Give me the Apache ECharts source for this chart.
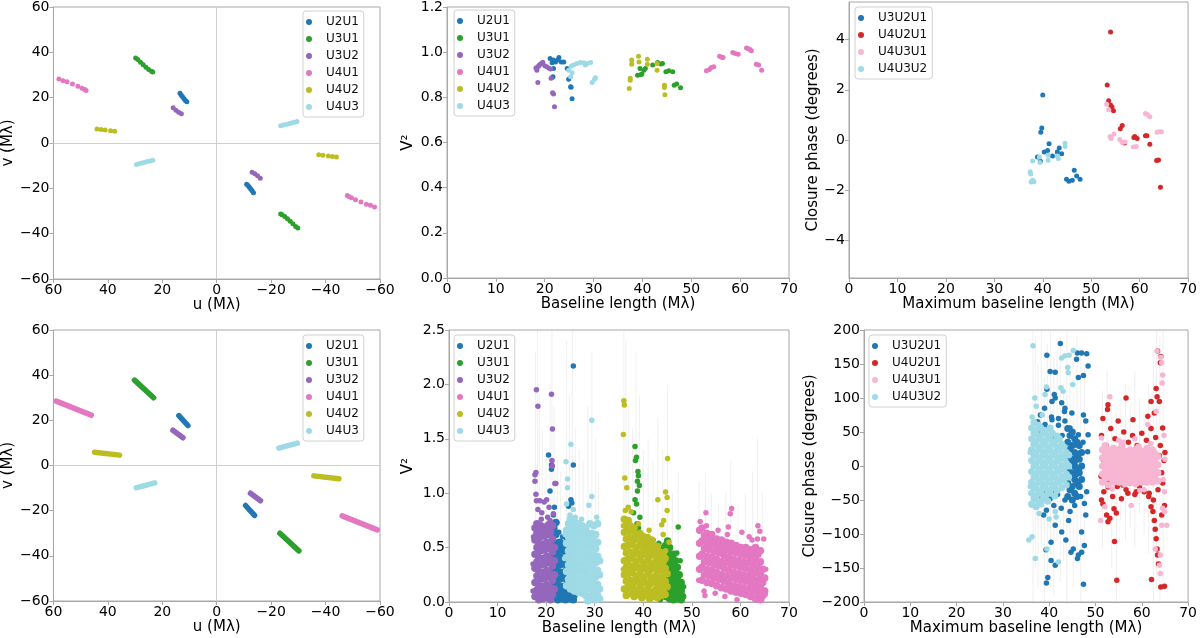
<!DOCTYPE html>
<html>
<head>
<meta charset="utf-8">
<script src="https://cdn.jsdelivr.net/npm/echarts@6/dist/echarts.min.js"></script>
<style>
html, body { margin: 0; padding: 0; background: #fff; }
#main { width: 1200px; height: 638px; }
</style>
</head>
<body>
<div id="main"></div>
<script>
// ---- names / colours
const baselines = ['U2U1', 'U3U1', 'U3U2', 'U4U1', 'U4U2', 'U4U3'];
const triangles = ['U3U2U1', 'U4U2U1', 'U4U3U1', 'U4U3U2'];
const baseColors = ['#1f77b4', '#2ca02c', '#9467bd', '#e377c2', '#bcbd22', '#9edae5'];
const triColors = ['#1f77b4', '#d62728', '#f7b6d2', '#9edae5'];

// ---- top row: uv points (only one half, the other is the conjugate -u,-v)
const uvTopU2U1 = [[13.5,22],[13,21.1],[12.5,20.3],[12,19.5],[11.5,18.8],[11,18.2]];
const uvTopU3U1 = [[29.8,37.5],[29,36.8],[28,35.6],[27,34.5],[26,33.4],[25,32.4],[24,31.6],[23.5,31.3]];
const uvTopU3U2 = [[16,15.5],[15,14.5],[14,13.6],[13,12.9]];
const uvTopU4U1 = [[58,28.2],[56.5,27.5],[55,27],[53,26],[51,25],[49.5,24.2],[48.5,23.6],[48,23.2]];
const uvTopU4U2 = [[44,6.2],[42.5,6],[41,5.7],[39,5.4],[37.5,5.2]];
const uvTopU4U3 = [[29.5,-9.5],[28.5,-9.1],[27.5,-8.8],[26.5,-8.5],[25.5,-8.2],[24.5,-7.9],[23.5,-7.6]];
const uvTop = [uvTopU2U1, uvTopU3U1, uvTopU3U2, uvTopU4U1, uvTopU4U2, uvTopU4U3];

// ---- bottom row: uv tracks (start, end)
const uvBotU2U1 = [[13.9,22.1],[10.6,17.7]];
const uvBotU3U1 = [[30.2,37.8],[23.2,30.0]];
const uvBotU3U2 = [[16.1,15.6],[12.4,12.3]];
const uvBotU4U1 = [[59.0,28.5],[46.1,22.3]];
const uvBotU4U2 = [[44.9,5.9],[35.7,4.6]];
const uvBotU4U3 = [[29.6,-9.9],[22.8,-7.7]];
const uvBot = [uvBotU2U1, uvBotU3U1, uvBotU3U2, uvBotU4U1, uvBotU4U2, uvBotU4U3];

// ---- top row: V2
const v2TopU2U1 = [[21.1,0.972],[21.5,0.953],[21.8,0.965],[22.2,0.957],[22.7,0.965],[22.9,0.976],[23.4,0.957],[23.9,0.957],[21.8,0.928],[21.7,0.891],[21.5,0.888],[24.6,0.928],[24.9,0.88],[25.3,0.847],[25.4,0.845],[25.6,0.794]];
const v2TopU3U1 = [[39.0,0.898],[39.5,0.928],[39.9,0.903],[39.6,0.9],[40.6,0.928],[40.3,0.92],[42.1,0.943],[43.1,0.954],[44.1,0.95],[43.8,0.948],[44.8,0.913],[45.4,0.918],[46.2,0.913],[46.5,0.854],[47.0,0.859],[47.8,0.842]];
const v2TopU3U2 = [[18.2,0.93],[18.4,0.92],[18.6,0.935],[18.8,0.94],[19.0,0.945],[19.3,0.95],[19.6,0.955],[20.0,0.94],[20.4,0.935],[20.8,0.93],[21.2,0.925],[18.6,0.866],[21.3,0.884],[21.6,0.82],[21.8,0.815],[22.0,0.758]];
const v2TopU4U1 = [[53.1,0.918],[53.7,0.923],[54.1,0.932],[54.6,0.935],[55.8,0.982],[56.2,0.978],[56.5,0.976],[58.5,0.999],[59.0,0.994],[59.6,0.991],[61.3,1.019],[61.7,1.015],[62.0,1.012],[62.3,1.006],[63.3,0.947],[63.8,0.943],[64.4,0.92]];
const v2TopU4U2 = [[37.3,0.839],[37.5,0.884],[37.5,0.876],[37.8,0.965],[37.8,0.946],[39.2,0.982],[39.3,0.957],[41.0,0.969],[41.0,0.946],[43.0,0.95],[43.0,0.92],[44.5,0.854],[44.5,0.844],[44.6,0.811]];
const v2TopU4U3 = [[24.9,0.92],[25.4,0.938],[25.9,0.943],[26.6,0.95],[27.3,0.954],[28.0,0.953],[28.3,0.943],[28.7,0.95],[29.4,0.954],[25.6,0.909],[25.3,0.891],[29.7,0.866],[30.2,0.88],[30.4,0.887]];
const v2Top = [v2TopU2U1, v2TopU3U1, v2TopU3U2, v2TopU4U1, v2TopU4U2, v2TopU4U3];

// ---- top row: closure phase
const cpTopU3U2U1 = [[39.6,0.31],[39.8,0.48],[40.0,1.79],[38.9,-0.68],[40.3,-0.48],[41.0,-0.42],[41.3,-0.15],[42.0,-0.64],[43.0,-0.48],[43.4,-0.32],[43.9,-0.55],[44.9,-1.56],[45.4,-1.64],[46.1,-1.6],[46.5,-1.21],[47.0,-1.43],[47.7,-1.56],[39.5,-0.85]];
const cpTopU4U2U1 = [[53.3,2.19],[54.0,4.3],[53.6,1.56],[54.0,1.39],[54.3,1.32],[54.6,1.17],[56.0,0.45],[56.4,0.58],[56.8,-0.1],[56.9,-0.12],[58.8,0.1],[59.0,0.14],[59.5,0.06],[61.2,0.17],[61.5,0.17],[62.1,-0.17],[63.5,-0.82],[63.9,-0.8],[64.3,-1.88]];
const cpTopU4U3U1 = [[53.2,1.42],[53.6,1.21],[53.9,0.14],[54.1,0.06],[54.7,0.24],[55.9,0.02],[56.4,-0.1],[57.0,-0.08],[58.7,-0.28],[59.3,-0.26],[61.2,1.06],[61.6,1.02],[62.1,0.93],[63.6,0.31],[64.0,0.33],[64.5,0.33]];
const cpTopU4U3U2 = [[37.4,-1.27],[37.5,-1.36],[37.6,-1.67],[37.9,-1.6],[37.9,-0.84],[39.3,-0.68],[39.4,-0.9],[41.1,-0.61],[41.1,-0.81],[43.0,-0.64],[43.2,-0.74],[44.6,-0.13],[44.6,-0.26],[38.2,-1.66]];
const cpTop = [cpTopU3U2U1, cpTopU4U2U1, cpTopU4U3U1, cpTopU4U3U2];

// ---- bottom row: V2, dense parts as [x, [y...]] columns plus loose points
const v2BotU2U1Cols = [[21.6,[0.04,0.17,0.30,0.43,0.55,0.68]],[22.0,[0.10,0.23,0.36,0.49,0.62,0.73]],[22.4,[0.02,0.15,0.28,0.41,0.52]],[22.8,[0.08,0.21,0.34,0.46,0.55]],[23.2,[0.03,0.14,0.27,0.40,0.50]],[23.6,[0.09,0.22,0.35,0.47,0.53]],[24.0,[0.02,0.15,0.28,0.41,0.50]],[24.4,[0.07,0.19,0.31,0.44]],[24.8,[0.03,0.12,0.22]],[25.2,[0.06,0.16,0.25]],[25.6,[0.02,0.10]]];
const v2BotU2U1Pts = [[25.6,2.17],[20.5,1.35],[21.1,1.26],[21.1,1.22],[20.8,1.02],[25.6,1.26],[25.1,0.94],[25.3,0.91],[21.7,0.87],[21.5,0.80],[22.2,0.73],[25.0,0.77],[24.6,0.88],[25.2,0.62],[24.9,0.68],[22.6,0.64],[23.4,0.60],[24.2,0.57],[25.9,0.05]];
const v2BotU3U1Cols = [[44.6,[0.05,0.17,0.29,0.41,0.52]],[45.0,[0.10,0.22,0.34,0.46,0.56]],[45.4,[0.03,0.15,0.27,0.39,0.50]],[45.8,[0.08,0.20,0.32,0.43]],[46.2,[0.02,0.13,0.25,0.36,0.44]],[46.6,[0.07,0.18,0.29,0.38]],[47.0,[0.03,0.12,0.22,0.32]],[47.4,[0.06,0.15,0.25]],[47.8,[0.02,0.10,0.18]],[48.1,[0.05]]];
const v2BotU3U1Pts = [[39.6,0.62],[40.2,0.58],[40.8,0.60],[41.4,0.55],[42.0,0.57],[42.6,0.52],[43.2,0.54],[43.8,0.50],[44.2,0.47],[41.0,0.50],[42.3,0.47],[39.9,0.52],[38.3,1.43],[38.6,1.33],[38.4,1.30],[38.9,1.20],[39.0,1.16],[38.8,1.11],[39.2,1.07],[38.8,1.02],[38.3,0.94],[38.6,0.90],[38.0,0.82],[39.3,0.78],[38.7,0.72],[39.0,0.68],[38.5,0.66],[47.2,0.69],[41.5,0.03],[42.5,0.06],[43.5,0.02],[40.5,0.08],[46.9,0.45],[48.3,0.14],[47.6,0.38]];
const v2BotU3U2Cols = [[17.7,[0.05,0.18,0.31,0.44,0.57,0.68]],[18.1,[0.11,0.24,0.37,0.50,0.63,0.72]],[18.5,[0.02,0.15,0.28,0.41,0.54,0.66]],[18.9,[0.08,0.21,0.34,0.47,0.60,0.70]],[19.3,[0.03,0.14,0.27,0.40,0.53,0.64]],[19.7,[0.09,0.22,0.35,0.48,0.61,0.69]],[20.1,[0.04,0.16,0.29,0.42,0.55,0.66]],[20.5,[0.10,0.23,0.36,0.49,0.62,0.71]],[20.9,[0.02,0.13,0.26,0.39,0.52,0.64]],[21.3,[0.07,0.20,0.33,0.46,0.58,0.70]],[21.7,[0.12,0.25,0.38,0.50]]];
const v2BotU3U2Pts = [[18.0,1.95],[18.3,1.80],[21.1,1.91],[21.3,1.59],[21.2,1.30],[21.3,1.25],[17.9,1.19],[17.7,1.17],[17.7,1.11],[18.0,0.93],[18.7,0.93],[19.6,0.92],[20.6,0.87],[20.1,0.94],[21.8,1.09],[22.0,1.09],[17.9,0.99],[18.3,0.85],[19.1,0.82],[20.3,0.78],[21.5,0.81],[17.3,0.35],[17.3,0.10],[17.4,0.60],[19.0,0.76],[20.8,0.75]];
const v2BotU4U1Cols = [[51.6,[0.30,0.42,0.54,0.66]],[52.1,[0.20,0.32,0.44,0.56,0.68]],[52.6,[0.25,0.37,0.49,0.61]],[53.1,[0.18,0.30,0.42,0.54,0.63]],[53.6,[0.24,0.36,0.48,0.59]],[54.1,[0.17,0.29,0.41,0.53,0.62]],[54.6,[0.22,0.34,0.46,0.57]],[55.1,[0.15,0.27,0.39,0.51,0.58]],[55.6,[0.21,0.33,0.45,0.55]],[56.1,[0.13,0.25,0.37,0.49,0.57]],[56.6,[0.19,0.31,0.43,0.53]],[57.1,[0.12,0.24,0.36,0.48,0.55]],[57.6,[0.17,0.29,0.41,0.51]],[58.1,[0.10,0.22,0.34,0.46,0.54]],[58.6,[0.15,0.27,0.39,0.49]],[59.1,[0.09,0.21,0.33,0.45,0.52]],[59.6,[0.14,0.26,0.38,0.48]],[60.1,[0.08,0.20,0.32,0.44,0.50]],[60.6,[0.13,0.25,0.37,0.47]],[61.1,[0.07,0.19,0.31,0.43,0.50]],[61.6,[0.12,0.24,0.36,0.46]],[62.1,[0.05,0.17,0.29,0.41,0.48]],[62.6,[0.10,0.22,0.34,0.45]],[63.1,[0.03,0.15,0.27,0.39,0.50]],[63.6,[0.08,0.20,0.32,0.44]],[64.1,[0.02,0.13,0.25,0.37,0.47]],[64.6,[0.06,0.18,0.30]],[65.0,[0.10,0.22]]];
const v2BotU4U1Pts = [[52.9,0.82],[51.7,0.74],[57.9,0.81],[58.2,0.86],[57.5,0.69],[60.3,0.64],[63.6,0.70],[64.0,0.65],[52.5,0.10],[52.7,0.06],[64.4,0.02],[65.1,0.07],[56.8,0.05],[53.0,0.70],[55.4,0.66],[61.8,0.60],[64.8,0.58],[59.3,0.02],[51.4,0.20],[63.5,0.58],[54.8,0.08],[57.3,0.62],[62.4,0.57],[65.2,0.30]];
const v2BotU4U2Cols = [[36.1,[0.12,0.25,0.38,0.51,0.64,0.76]],[36.5,[0.06,0.19,0.32,0.45,0.58,0.70]],[36.9,[0.13,0.26,0.39,0.52,0.65,0.75]],[37.3,[0.08,0.20,0.33,0.46,0.59,0.70]],[37.7,[0.14,0.27,0.40,0.53,0.66]],[38.1,[0.05,0.18,0.31,0.44,0.57,0.68]],[38.5,[0.11,0.24,0.37,0.50,0.62]],[38.9,[0.07,0.19,0.32,0.45,0.58]],[39.3,[0.13,0.26,0.39,0.52,0.63]],[39.7,[0.04,0.17,0.30,0.43,0.56]],[40.1,[0.10,0.23,0.36,0.49,0.60]],[40.5,[0.06,0.18,0.31,0.44,0.55]],[40.9,[0.12,0.25,0.38,0.50,0.59]],[41.3,[0.03,0.16,0.29,0.42,0.53]],[41.7,[0.09,0.22,0.35,0.47,0.57]],[42.1,[0.05,0.18,0.31,0.44,0.52]],[42.5,[0.11,0.24,0.37,0.49]],[42.9,[0.04,0.16,0.29,0.41,0.51]],[43.3,[0.10,0.22,0.35,0.46]],[43.7,[0.06,0.18,0.30,0.42]],[44.1,[0.12,0.25,0.37,0.45]],[44.5,[0.07,0.19,0.31,0.40]],[44.9,[0.14,0.26]]];
const v2BotU4U2Pts = [[36.0,1.85],[36.1,1.81],[35.9,1.54],[36.2,1.14],[36.6,1.05],[36.3,0.84],[36.9,0.87],[45.0,1.32],[44.6,1.01],[43.0,0.94],[44.9,0.96],[44.9,0.84],[43.8,0.71],[44.1,0.62],[44.6,0.47],[37.5,0.83],[35.9,0.70],[45.3,0.55],[44.2,0.75],[35.9,0.30],[39.0,0.72],[41.2,0.66]];
const v2BotU4U3Cols = [[24.2,[0.15,0.28,0.41,0.54,0.66]],[24.6,[0.21,0.34,0.47,0.60,0.72]],[25.0,[0.12,0.25,0.38,0.51,0.64,0.76]],[25.4,[0.18,0.31,0.44,0.57,0.70]],[25.8,[0.10,0.23,0.36,0.49,0.62,0.74]],[26.2,[0.16,0.29,0.42,0.55,0.68]],[26.6,[0.09,0.22,0.35,0.48,0.61,0.72]],[27.0,[0.15,0.28,0.41,0.54,0.66]],[27.4,[0.08,0.21,0.34,0.47,0.60,0.70]],[27.8,[0.14,0.27,0.40,0.53,0.65]],[28.2,[0.06,0.19,0.32,0.45,0.58,0.68]],[28.6,[0.01,0.12,0.25,0.38,0.51,0.63]],[29.0,[0.05,0.18,0.31,0.44,0.57,0.72]],[29.4,[0.11,0.24,0.37,0.50,0.63]],[29.8,[0.04,0.17,0.30,0.43,0.56,0.70]],[30.2,[0.02,0.10,0.23,0.36,0.49,0.62]],[30.6,[0.06,0.16,0.29,0.42,0.55,0.72]],[31.0,[0.03,0.12,0.25,0.38]]];
const v2BotU4U3Pts = [[29.4,1.67],[25.1,1.45],[24.1,1.29],[24.4,1.13],[24.4,1.05],[24.2,0.90],[29.4,0.97],[28.8,0.89],[30.4,0.78],[24.9,0.80],[25.6,0.85],[26.0,0.78],[27.3,0.76],[23.9,0.62],[23.8,0.40]];
const v2BotCols = [v2BotU2U1Cols, v2BotU3U1Cols, v2BotU3U2Cols, v2BotU4U1Cols, v2BotU4U2Cols, v2BotU4U3Cols];
const v2BotPts = [v2BotU2U1Pts, v2BotU3U1Pts, v2BotU3U2Pts, v2BotU4U1Pts, v2BotU4U2Pts, v2BotU4U3Pts];
// faint error bars seen behind the bottom V2 cloud: [x, low, high]
const v2BotErr = [[17.8,0.3,2.3],[18.2,0.8,2.5],[18.6,0.2,1.9],[19.2,0.0,1.6],[20.0,0.1,1.4],[20.8,0.3,2.0],[21.2,0.6,2.5],[21.6,0.2,1.8],[22.3,0.0,1.3],[23.0,0.0,1.2],[24.2,0.2,2.4],[24.8,0.4,1.9],[25.4,0.6,2.5],[26.0,0.0,1.6],[26.8,0.1,1.4],[27.6,0.0,1.3],[28.6,0.1,1.8],[29.4,0.7,2.3],[30.2,0.0,1.5],[30.8,0.1,1.2],
  [36.0,0.8,2.5],[36.4,0.3,2.4],[37.0,0.0,1.8],[37.8,0.2,1.6],[38.5,0.5,2.3],[39.2,0.2,1.9],[40.0,0.0,1.4],[41.0,0.1,1.5],[42.0,0.0,1.3],[43.0,0.3,1.7],[44.0,0.2,1.4],[45.0,0.5,2.0],[46.0,0.0,1.0],[47.2,0.0,1.2],
  [51.5,0.2,1.1],[52.8,0.3,1.2],[54.0,0.1,1.0],[55.5,0.0,0.9],[57.0,0.1,1.0],[58.0,0.4,1.3],[59.5,0.0,0.9],[61.0,0.1,1.0],[62.5,0.0,1.2],[63.5,0.1,1.5],[64.5,0.0,1.0]];

// ---- bottom row: closure phase
const cpBotU3U2U1Cols = [[44.0,[-45,-25,-5,15,35,55]],[44.5,[-35,-15,5,25,45]],[45.0,[-50,-30,-10,10,30,50]],[45.5,[-40,-20,0,20,40]],[46.0,[-45,-25,-5,15,35]],[46.5,[-30,-10,10,30]],[47.0,[-20,0,20]]];
const cpBotU3U2U1Pts = [[37.5,65],[38.2,48],[39.0,85],[39.8,55],[40.5,72],[41.2,40],[42.0,60],[42.8,45],[43.3,80],[37.8,-55],[38.6,-40],[39.4,-65],[40.2,-48],[41.0,-58],[41.8,-42],[42.6,-62],[43.4,-50],
  [46.1,166],[47.0,166],[48.1,165],[45.9,157],[48.4,147],[47.4,133],[46.3,130],[41.1,105],[42.4,180],[39.5,163],[40.2,139],[41.3,138],[39.5,113],[41.3,100],[40.6,95],[42.7,93],[43.4,85],[44.9,78],[47.4,75],[47.9,66],[48.4,46],[48.3,21],[48.1,-38],[47.6,-55],[47.9,-72],[47.0,-97],[47.6,-117],[47.0,-127],[46.3,-131],[46.1,-136],[47.4,-174],[39.4,-172],[39.7,-164],[39.3,-123],[40.4,-139],[41.3,-146],[42.7,-97],[43.6,-109],[44.7,-127],[45.2,-122],[40.4,-112],[41.3,-87],[44.5,-67],[38.8,-72],[38.1,-48],[41.1,-40],[45.9,-13],[46.4,-28],[46.6,-3],[45.6,6],[46.6,19],[45.6,31],[46.3,46],[44.5,56],[43.4,66],[42.0,70],[40.6,68],[39.1,61],[38.1,75],[45.5,-58],[46.8,-45],[44.2,-80],[47.3,35]];
const cpBotU4U2U1Pts = [[51.3,45],[51.8,-38],[52.3,30],[52.8,-20],[53.3,55],[53.7,-45],[54.2,40],[54.7,-30],[55.2,25],[55.6,-48],[56.1,50],[56.6,-35],[57.1,35],[57.5,-25],[58.0,45],[58.5,-42],[59.0,30],[59.5,-30],[60.0,48],[60.5,-38],[61.0,38],[61.5,-45],[62.0,55],[62.5,-50],[63.0,42],[63.5,-35],[64.0,30],[64.5,-25],[65.0,20],[51.6,10],[52.4,-5],[53.0,0],[56.0,5],[59.8,-8],[62.8,2],[64.3,-10],[64.8,8],[63.8,15],[51.2,-15],[54.0,18],
  [63.4,169],[64.1,161],[64.0,152],[63.1,114],[63.3,102],[63.8,95],[62.0,95],[56.6,100],[52.7,90],[52.6,83],[51.6,70],[54.9,66],[58.1,68],[61.3,73],[62.7,78],[64.5,56],[51.3,-50],[51.6,-56],[52.4,-72],[53.1,-77],[52.7,-82],[54.0,-63],[54.5,-69],[54.1,-111],[54.6,-168],[62.0,-60],[62.4,-67],[62.7,-80],[62.9,-93],[63.1,-107],[63.3,-122],[63.4,-131],[63.6,-144],[62.1,-167],[64.1,-178],[64.9,-177],[64.3,-72],[64.9,-58],[61.6,-40],[57.0,-40],[58.8,-38],[52.7,-31],[55.9,-28]];
const cpBotU4U3U1Cols = [[51.5,[-24,-12,0,12,24]],[52.1,[-18,-6,6,18,30]],[52.7,[-28,-12,0,12,24]],[53.3,[-18,-6,6,18]],[53.9,[-24,-12,0,12,26]],[54.5,[-20,-6,6,18]],[55.1,[-24,-12,0,12,24]],[55.7,[-18,-6,6,18,30]],[56.3,[-26,-12,0,12,22]],[56.9,[-18,-6,6,18]],[57.5,[-24,-12,0,12,24]],[58.1,[-20,-6,6,18]],[58.7,[-26,-12,0,12,24]],[59.3,[-18,-6,6,18,28]],[59.9,[-24,-12,0,12,22]],[60.5,[-18,-6,6,18]],[61.1,[-24,-12,0,12,26]],[61.7,[-20,-6,6,18]],[62.3,[-24,-12,0,12,24]],[62.9,[-18,-6,6,18]],[63.5,[-22,-10,2,14]]];
const cpBotU4U3U1Pts = [[53.1,102],[63.3,169],[64.1,160],[64.3,152],[64.4,122],[64.5,134],[63.1,80],[61.3,61],[51.3,41],[64.9,-38],[64.5,-62],[64.9,-67],[64.3,-87],[65.4,-87],[64.0,-131],[63.8,-146],[64.0,-158],[62.9,-122],[51.1,-80],[57.7,-58],[62.7,-13],[52.0,-60],[58.5,40],[55.0,38],[60.5,-35],[64.8,45],[65.0,10],[64.6,-20],[53.6,-34],[56.0,35],[59.6,-36],[61.9,33]];
const cpBotU4U3U2Cols = [[36.2,[-56,-40,-24,-8,8,24,40,56]],[36.7,[-48,-32,-16,0,16,32,48,64]],[37.2,[-60,-44,-28,-12,4,20,36,52]],[37.7,[-52,-36,-20,-4,12,28,44,60]],[38.2,[-56,-40,-24,-8,8,24,40,56]],[38.7,[-48,-32,-16,0,16,32,48]],[39.2,[-44,-28,-12,4,20,36,52]],[39.7,[-52,-36,-20,-4,12,28,44]],[40.2,[-40,-24,-8,8,24,40,56]],[40.7,[-32,-16,0,16,32,48]],[41.2,[-44,-28,-12,4,20,36]],[41.7,[-36,-20,-4,12,28,44]],[42.2,[-24,-8,8,24,40]],[42.7,[-32,-16,0,16,32]],[43.2,[-20,-4,12,28]],[43.7,[-28,-12,4,20]],[44.2,[-16,0,16]]];
const cpBotU4U3U2Pts = [[36.5,177],[42.7,159],[43.4,162],[44.3,163],[45.2,170],[44.0,145],[44.1,137],[39.4,116],[36.9,100],[36.3,72],[37.0,-136],[35.6,-109],[36.3,-104],[42.0,-141],[39.5,-122],[41.3,-67],[36.3,-58],[39.1,105],[45.1,120],[37.2,88],[38.5,75],[43.0,110],[42.5,115],[41.5,-75],[40.0,-78],[37.8,-70],[35.9,20],[35.9,-30]];
const cpBotCols = [cpBotU3U2U1Cols, [], cpBotU4U3U1Cols, cpBotU4U3U2Cols];
const cpBotPts = [cpBotU3U2U1Pts, cpBotU4U2U1Pts, cpBotU4U3U1Pts, cpBotU4U3U2Pts];
const cpBotErr = [[36.5,-200,200],[37.0,-150,190],[37.6,-180,150],[38.3,-120,200],[39.0,-200,130],[39.6,-160,180],[40.3,-130,200],[41.0,-190,160],[41.7,-110,170],[42.4,-170,190],[43.1,-140,120],[43.8,-200,200],[44.5,-120,160],[45.2,-180,110],[46.0,-150,190],[46.8,-200,170],[47.6,-130,150],
  [51.5,-120,110],[52.5,-90,140],[53.5,-150,90],[54.5,-200,80],[55.5,-80,100],[56.5,-110,120],[57.5,-90,90],[58.5,-120,140],[59.5,-70,100],[60.5,-100,80],[61.5,-130,120],[62.5,-200,170],[63.2,-180,200],[63.9,-200,190],[64.6,-170,200]];

// ---- helpers
const FONT = 'DejaVu Sans';
const EDGE = '#a8a8a8';
function fromCols(cols) {
    const out = [];
    cols.forEach(function (c) { c[1].forEach(function (y) { out.push([c[0], y]); }); });
    return out;
}
function minus(v) { return String(v).replace('-', '\u2212'); }

function axis(grid, opt) {
    return Object.assign({
        type: 'value',
        gridIndex: grid,
        nameLocation: 'middle',
        nameTextStyle: { fontFamily: FONT, fontSize: 15, color: '#000' },
        axisLine: { show: true, onZero: false, lineStyle: { color: EDGE, width: 1 } },
        axisTick: { show: true, inside: false, length: 4, lineStyle: { color: EDGE } },
        axisLabel: { fontFamily: FONT, fontSize: 14, color: '#000', margin: 4, formatter: minus, showMinLabel: true, showMaxLabel: true },
        splitLine: { show: false }
    }, opt);
}

const grids = [
    { left: 53, top: 6, width: 327, height: 273 },
    { left: 447, top: 6, width: 342, height: 272 },
    { left: 849, top: 2, width: 343, height: 276 },
    { left: 53, top: 330, width: 327, height: 271 },
    { left: 449, top: 330, width: 340, height: 272 },
    { left: 864, top: 330, width: 327, height: 272 }
].map(function (g) { return Object.assign({ show: true, borderColor: EDGE, borderWidth: 1, backgroundColor: '#fff' }, g); });

const fix1 = function (v) { return v.toFixed(1); };

const xAxes = [
    axis(0, { min: -60, max: 60, interval: 20, inverse: true, name: 'u (M\u03bb)', nameGap: 15 }),
    axis(1, { min: 0, max: 70, interval: 10, name: 'Baseline length (M\u03bb)', nameGap: 15 }),
    axis(2, { min: 0, max: 70, interval: 10, name: 'Maximum baseline length (M\u03bb)', nameGap: 15 }),
    axis(3, { min: -60, max: 60, interval: 20, inverse: true, name: 'u (M\u03bb)', nameGap: 17 }),
    axis(4, { min: 0, max: 70, interval: 10, name: 'Baseline length (M\u03bb)', nameGap: 14 }),
    axis(5, { min: 0, max: 70, interval: 10, name: 'Maximum baseline length (M\u03bb)', nameGap: 14 })
];
const yAxes = [
    axis(0, { min: -60, max: 60, interval: 20, name: 'v (M\u03bb)', nameGap: 36 }),
    axis(1, { min: 0, max: 1.2, interval: 0.2, name: 'V\u00b2', nameGap: 31 }),
    axis(2, { min: -5.5, max: 5.5, name: 'Closure phase (degrees)', nameGap: 28 }),
    axis(3, { min: -60, max: 60, interval: 20, name: 'v (M\u03bb)', nameGap: 36 }),
    axis(4, { min: 0, max: 2.5, interval: 0.5, name: 'V\u00b2', nameGap: 33 }),
    axis(5, { min: -200, max: 200, interval: 50, name: 'Closure phase (degrees)', nameGap: 44 })
];
yAxes[1].axisLabel.formatter = fix1;
yAxes[4].axisLabel.formatter = fix1;
yAxes[2].axisTick.customValues = [-4, -2, 0, 2, 4];
yAxes[2].axisLabel.customValues = [-4, -2, 0, 2, 4];

const series = [];
function scatter(name, color, grid, data, size) {
    series.push({
        type: 'scatter', name: name, xAxisIndex: grid, yAxisIndex: grid,
        data: data, symbolSize: size || 5,
        itemStyle: { color: color, opacity: 1 },
        silent: true
    });
}
function errorBars(grid, data) {
    series.push({
        type: 'custom', xAxisIndex: grid, yAxisIndex: grid, data: data, silent: true, z: 1,
        renderItem: function (params, api) {
            const a = api.coord([api.value(0), api.value(1)]);
            const b = api.coord([api.value(0), api.value(2)]);
            return {
                type: 'line',
                shape: { x1: a[0], y1: a[1], x2: b[0], y2: b[1] },
                style: { stroke: 'rgba(200,200,200,0.28)', lineWidth: 1 }
            };
        }
    });
}

const zeroLines = {
    silent: true, symbol: ['none', 'none'], label: { show: false },
    lineStyle: { color: '#cfcfcf', width: 1, type: 'solid' },
    data: [{ xAxis: 0 }, { yAxis: 0 }]
};

// top uv: points and their conjugates
baselines.forEach(function (b, i) {
    const pts = uvTop[i].concat(uvTop[i].map(function (p) { return [-p[0], -p[1]]; }));
    scatter(b, baseColors[i], 0, pts, 5);
});
series[0].markLine = zeroLines;

// bottom uv: continuous tracks, drawn as thick lines
baselines.forEach(function (b, i) {
    [uvBot[i], uvBot[i].map(function (p) { return [-p[0], -p[1]]; })].forEach(function (seg) {
        series.push({
            type: 'line', name: b, xAxisIndex: 3, yAxisIndex: 3, data: seg,
            showSymbol: false, silent: true,
            itemStyle: { color: baseColors[i] },
            lineStyle: { color: baseColors[i], width: 5.5, cap: 'round' }
        });
    });
});
series.push({ type: 'scatter', xAxisIndex: 3, yAxisIndex: 3, data: [], silent: true, markLine: zeroLines });

baselines.forEach(function (b, i) { scatter(b, baseColors[i], 1, v2Top[i], 5); });
triangles.forEach(function (t, i) { scatter(t, triColors[i], 2, cpTop[i], 5); });

errorBars(4, v2BotErr);
baselines.forEach(function (b, i) {
    scatter(b, baseColors[i], 4, fromCols(v2BotCols[i]), 7.5);
    scatter(b, baseColors[i], 4, v2BotPts[i], 5.5);
});
errorBars(5, cpBotErr);
triangles.forEach(function (t, i) {
    scatter(t, triColors[i], 5, fromCols(cpBotCols[i]), 7);
    scatter(t, triColors[i], 5, cpBotPts[i], 5.5);
});

function legend(names, left, top) {
    return {
        data: names, left: left, top: top, orient: 'vertical',
        icon: 'circle', itemWidth: 24, itemHeight: 6, itemGap: 3,
        padding: [4, 5, 3, 3],
        borderColor: '#d0d0d0', borderWidth: 1, borderRadius: 3,
        backgroundColor: 'rgba(255,255,255,0.85)',
        selectedMode: false, z: 10,
        textStyle: { fontFamily: FONT, fontSize: 12, color: '#111', lineHeight: 14 }
    };
}

const option = {
    animation: false,
    backgroundColor: '#fff',
    grid: grids,
    xAxis: xAxes,
    yAxis: yAxes,
    legend: [
        legend(baselines, 303, 11),
        legend(baselines, 454, 10),
        legend(triangles, 855, 7),
        legend(baselines, 303, 335),
        legend(baselines, 454, 335),
        legend(triangles, 869, 335)
    ],
    series: series
};

const myChart = echarts.init(document.getElementById('main'), null, { renderer: 'canvas' });
myChart.setOption(option);
</script>
</body>
</html>
